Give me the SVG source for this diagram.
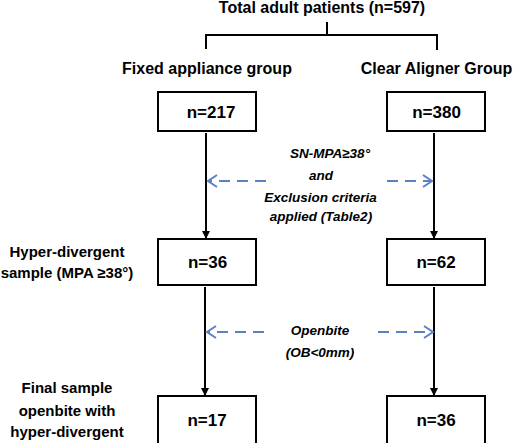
<svg xmlns="http://www.w3.org/2000/svg" width="515" height="443" viewBox="0 0 515 443">
<style>
text{font-family:"Liberation Sans",Arial,sans-serif;font-weight:bold;fill:#000}
.t{font-size:16px}
.s{font-size:15px;text-anchor:middle}
.n{font-size:17px;text-anchor:middle}
.i{font-size:13.5px;font-style:italic;text-anchor:middle}
.box{fill:#fff;stroke:#000;stroke-width:2}
.ln{stroke:#000;stroke-width:2;fill:none}
.ds{stroke:#5b80c4;stroke-width:2;fill:none;stroke-dasharray:11 7}
</style>
<defs>
<marker id="ah" markerWidth="8" markerHeight="8" refX="7" refY="4" orient="auto" markerUnits="userSpaceOnUse">
<path d="M0,0 L8,4 L0,8 z" fill="#000"/>
</marker>
<marker id="oh" markerWidth="12" markerHeight="14" refX="10" refY="7" orient="auto" markerUnits="userSpaceOnUse">
<path d="M1,1 L10,7 L1,13" fill="none" stroke="#5b80c4" stroke-width="2"/>
</marker>
</defs>
<g id="title"><text class="t" x="322" y="13" text-anchor="middle">Total adult patients (n=597)</text></g>
<g id="lbl-fixed"><text class="t" x="207" y="74" text-anchor="middle">Fixed appliance group</text></g>
<g id="lbl-clear"><text class="t" x="436.5" y="74" text-anchor="middle">Clear Aligner Group</text></g>
<g id="lbl-hyper"><text class="s" x="67" y="257">Hyper-divergent</text><text class="s" x="67" y="278">sample (MPA ≥38°)</text></g>
<g id="lbl-final"><text class="s" x="67" y="393">Final sample</text><text class="s" x="67" y="416">openbite with</text><text class="s" x="67" y="437">hyper-divergent</text></g>
<g id="connectors">
<path class="ln" d="M327,22 V35 M206,49 V35 H437 V50"/>
<line class="ln" x1="206" y1="133" x2="206" y2="238" marker-end="url(#ah)"/>
<line class="ln" x1="434" y1="133" x2="434" y2="238" marker-end="url(#ah)"/>
<line class="ln" x1="205" y1="287" x2="205" y2="395" marker-end="url(#ah)"/>
<line class="ln" x1="434" y1="287" x2="434" y2="395" marker-end="url(#ah)"/>
<line class="ds" x1="266" y1="181" x2="208" y2="181" marker-end="url(#oh)"/>
<line class="ds" x1="387" y1="181" x2="432" y2="181" marker-end="url(#oh)"/>
<line class="ds" x1="264" y1="332" x2="207" y2="332" marker-end="url(#oh)"/>
<line class="ds" x1="378" y1="332" x2="433" y2="332" marker-end="url(#oh)"/>
</g>
<g id="crit1"><text class="i" x="330" y="158">SN-MPA≥38°</text><text class="i" x="321" y="180">and</text><text class="i" x="320.5" y="202">Exclusion criteria</text><text class="i" x="321" y="221">applied (Table2)</text></g>
<g id="crit2"><text class="i" x="320" y="335">Openbite</text><text class="i" x="320" y="357">(OB&lt;0mm)</text></g>
<g id="box217"><rect class="box" x="158" y="92" width="98" height="39"/><text class="n" x="211" y="118">n=217</text></g>
<g id="box380"><rect class="box" x="387" y="92" width="98" height="39"/><text class="n" x="436.5" y="118">n=380</text></g>
<g id="box36a"><rect class="box" x="158" y="239" width="98" height="46"/><text class="n" x="207.5" y="268">n=36</text></g>
<g id="box62"><rect class="box" x="387" y="239" width="98" height="46"/><text class="n" x="436" y="268">n=62</text></g>
<g id="box17"><rect class="box" x="158" y="396" width="98" height="50"/><text class="n" x="207" y="426">n=17</text></g>
<g id="box36b"><rect class="box" x="387" y="396" width="98" height="50"/><text class="n" x="436" y="426">n=36</text></g>
</svg>
